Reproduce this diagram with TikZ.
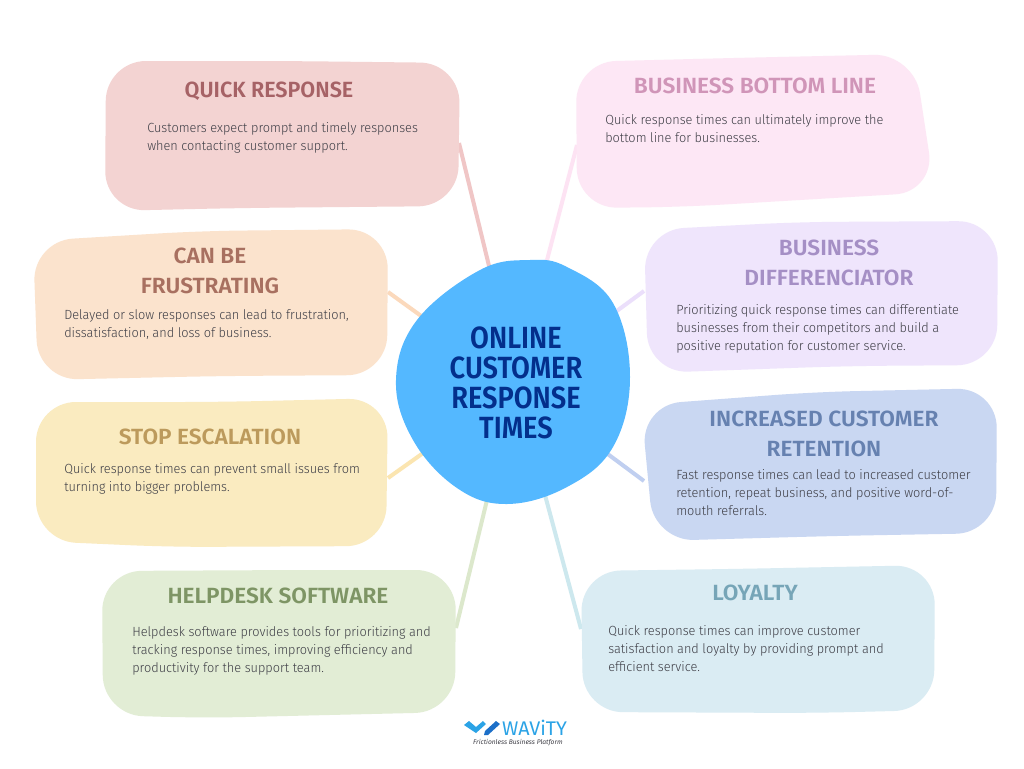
\documentclass[tikz,border=0pt]{standalone}
\usepackage{fontspec}
\setmainfont{Fira Sans}
\newfontfamily\headfont{Fira Sans SemiBold}[FakeStretch=1.03]
\newfontfamily\headnarrow{Fira Sans SemiBold}[FakeStretch=0.98]
\newfontfamily\hubfont{Fira Sans SemiBold}[FakeStretch=0.89]
\newfontfamily\bodyfont{Fira Sans Light}[FakeStretch=0.96]
\definecolor{bquick}{HTML}{F3D3D2}\definecolor{tquick}{HTML}{A66266}\definecolor{lquick}{HTML}{F0C6C6}
\definecolor{bfrus}{HTML}{FBE3CD}\definecolor{tfrus}{HTML}{A87060}\definecolor{lfrus}{HTML}{FBD9BC}
\definecolor{bstop}{HTML}{FAEBC0}\definecolor{tstop}{HTML}{BC9A5C}\definecolor{lstop}{HTML}{FBE5B0}
\definecolor{bhelp}{HTML}{E2EDD5}\definecolor{thelp}{HTML}{7E9565}\definecolor{lhelp}{HTML}{DCE8CC}
\definecolor{bbott}{HTML}{FDE7F5}\definecolor{tbott}{HTML}{D095B8}\definecolor{lbott}{HTML}{FDE3F3}
\definecolor{bdiff}{HTML}{EFE5FC}\definecolor{tdiff}{HTML}{A58FC5}\definecolor{ldiff}{HTML}{EBDFFB}
\definecolor{bret}{HTML}{C9D7F2}\definecolor{tret}{HTML}{6681B0}\definecolor{lret}{HTML}{C0CFF0}
\definecolor{bloy}{HTML}{DAECF3}\definecolor{tloy}{HTML}{76A5B7}\definecolor{lloy}{HTML}{CDE8EE}
\definecolor{hubfill}{HTML}{54B8FF}\definecolor{hubtext}{HTML}{032F8C}
\definecolor{bodytext}{HTML}{3E3E46}
\definecolor{logolight}{HTML}{2BA3E6}\definecolor{logodark}{HTML}{1C6FC8}
\tikzset{
  x=0.75pt,y=-0.75pt,
  blob/.style={rounded corners=30pt},
  spoke/.style={line width=3pt},
  cardtitle/.style={font=\headfont\fontsize{16.5}{22.5}\selectfont,align=center,inner sep=0pt},
  cardtitlen/.style={font=\headnarrow\fontsize{16.5}{22.5}\selectfont,align=center,inner sep=0pt},
  cardbody/.style={font=\bodyfont\fontsize{9.95}{13.5}\selectfont,text=bodytext,align=left,anchor=north west,inner sep=0pt},
  hubtitle/.style={font=\hubfont\fontsize{23}{22.5}\selectfont,text=hubtext,align=center,inner sep=0pt},
}
\begin{document}
\begin{tikzpicture}
\useasboundingbox (0,0) rectangle (1024,768);
\fill[white] (0,0) rectangle (1024,768);
% connector ends
\coordinate (q1) at (459,143); \coordinate (q2) at (490,270);
\coordinate (f1) at (388,292); \coordinate (f2) at (424,318);
\coordinate (s1) at (388,478); \coordinate (s2) at (426,451);
\coordinate (h1) at (456,628); \coordinate (h2) at (487,500);
\coordinate (b1) at (577,145); \coordinate (b2) at (546,264);
\coordinate (d1) at (644,291); \coordinate (d2) at (614,313);
\coordinate (r1) at (644,481); \coordinate (r2) at (605,452);
\coordinate (l1) at (581,629); \coordinate (l2) at (545,495);
\draw[spoke,lquick] (q1)--(q2);
\draw[spoke,lfrus] (f1)--(f2);
\draw[spoke,lstop] (s1)--(s2);
\draw[spoke,lhelp] (h1)--(h2);
\draw[spoke,lbott] (b1)--(b2);
\draw[spoke,ldiff] (d1)--(d2);
\draw[spoke,lret] (r1)--(r2);
\draw[spoke,lloy] (l1)--(l2);
% cards
\fill[bquick,blob] (285,61)--(460,63)--(458,206)--(240,208)--(105,211)--(106,61)--cycle;
\fill[bfrus,blob] (200,231)--(388,229)--(387,375)--(220,376)--(38,380)--(33,241)--cycle;
\fill[bstop,blob] (220,402)--(388,398)--(386,546)--(170,547)--(36,541)--(36,402)--cycle;
\fill[bhelp,blob] (300,570)--(456,570)--(455,712)--(203,718)--(103,715)--(102,571)--cycle;
\fill[bbott,blob] (732,58)--(914,54)--(935,192)--(682,207)--(577,208)--(576,62)--cycle;
\fill[bdiff,blob] (798,222)--(998,221)--(997,365)--(848,366)--(648,373)--(644,230)--cycle;
\fill[bret,blob] (815,392)--(997,388)--(996,533)--(832,536)--(654,541)--(641,405)--cycle;
\fill[bloy,blob] (732,569)--(935,565)--(934,710)--(815,713)--(583,712)--(581,571)--cycle;
% hub
\fill[hubfill] plot[smooth cycle,tension=0.65] coordinates {(530,260)(567,267)(613,303)(630,377)(613,447)(567,487)(507,504)(457,488)(413,440)(396,380)(417,320)(480,270)};
\node[hubtitle] (hub) at (516,383) {ONLINE\\CUSTOMER\\RESPONSE\\TIMES};
% titles
\node[cardtitlen,text=tquick] (tq) at (269,91.5) {QUICK RESPONSE};
\node[cardtitle,text=tfrus] (tf) at (210,270.5) {CAN BE\\FRUSTRATING};
\node[cardtitle,text=tstop] (ts) at (210,436.5) {STOP ESCALATION};
\node[cardtitle,text=thelp] (th) at (278,595.5) {HELPDESK SOFTWARE};
\node[cardtitle,text=tbott] (tb) at (755,85.5) {BUSINESS BOTTOM LINE};
\node[cardtitle,text=tdiff] (td) at (829,262.5) {BUSINESS\\DIFFERENCIATOR};
\node[cardtitle,text=tret] (tr) at (824,433.5) {INCREASED CUSTOMER\\RETENTION};
\node[cardtitle,text=tloy] (tl) at (755,592.5) {LOYALTY};
% bodies
\node[cardbody] (bq) at (147,122.5) {Customers expect prompt and timely responses\\when contacting customer support.};
\node[cardbody] (bf) at (64,309.5) {Delayed or slow responses can lead to frustration,\\dissatisfaction, and loss of business.};
\node[cardbody] (bs) at (64,463.5) {Quick response times can prevent small issues from\\turning into bigger problems.};
\node[cardbody] (bh) at (132,626.5) {Helpdesk software provides tools for prioritizing and\\tracking response times, improving efficiency and\\productivity for the support team.};
\node[cardbody] (bb) at (605,114.5) {Quick response times can ultimately improve the\\bottom line for businesses.};
\node[cardbody] (bd) at (676,304.5) {Prioritizing quick response times can differentiate\\businesses from their competitors and build a\\positive reputation for customer service.};
\node[cardbody] (br) at (676,469.5) {Fast response times can lead to increased customer\\retention, repeat business, and positive word-of-\\mouth referrals.};
\node[cardbody] (bl) at (608,625.5) {Quick response times can improve customer\\satisfaction and loyalty by providing prompt and\\efficient service.};
% logo
\fill[logolight] (464,725)--(469,721)--(476,727)--(483,721)--(486,724)--(476,733)--cycle;
\fill[logodark] (485,731)--(496,721)--(500,724)--(488,735)--(484,735)--cycle;
\node[inner sep=0pt,text=logolight,font=\fontsize{14.8}{15}\selectfont] (logo) at (534.5,728) {WAViTY};
\node[inner sep=0pt,text=bodytext,font=\itshape\fontsize{5}{5.5}\selectfont] (slogan) at (518,743) {Frictionless Business Platform};
\end{tikzpicture}
\end{document}
